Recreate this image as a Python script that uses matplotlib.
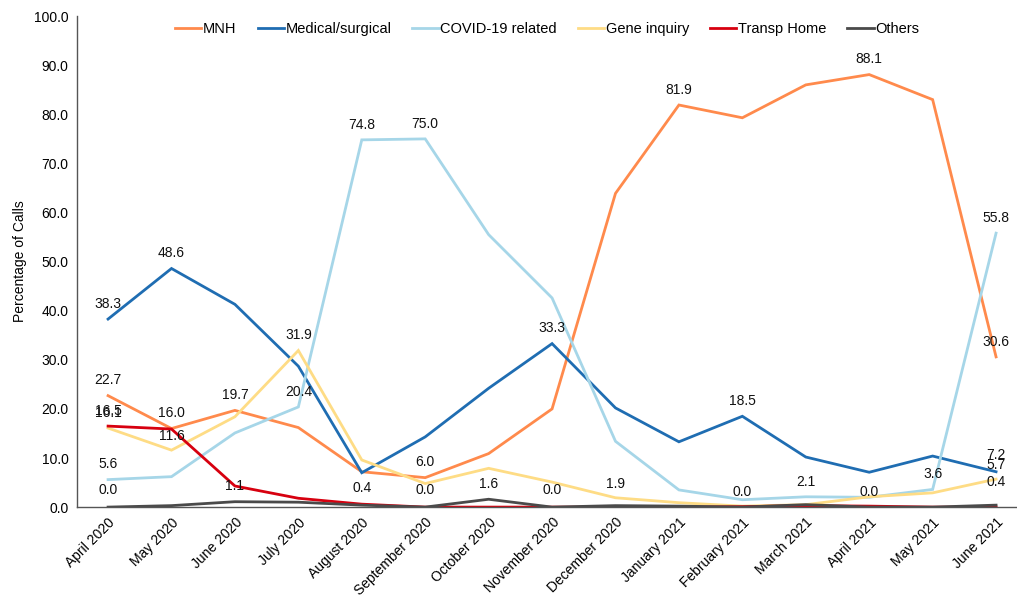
import numpy as np
import matplotlib
matplotlib.use("Agg")
import matplotlib.pyplot as plt

plt.rcParams["font.family"] = ["Liberation Sans", "DejaVu Sans"]

months = ["April 2020", "May 2020", "June 2020", "July 2020", "August 2020",
          "September 2020", "October 2020", "November 2020", "December 2020",
          "January 2021", "February 2021", "March 2021", "April 2021",
          "May 2021", "June 2021"]

mnh = [22.7, 16.0, 19.7, 16.2, 7.2, 6.0, 10.9, 20.0, 63.9, 81.9, 79.3, 86.0, 88.1, 83.0, 30.6]
medical = [38.3, 48.6, 41.3, 28.7, 7.0, 14.3, 24.2, 33.3, 20.2, 13.3, 18.5, 10.2, 7.1, 10.4, 7.2]
covid = [5.6, 6.2, 15.1, 20.4, 74.8, 75.0, 55.5, 42.6, 13.4, 3.5, 1.5, 2.1, 2.0, 3.6, 55.8]
gene = [16.1, 11.6, 18.4, 31.9, 9.6, 4.8, 7.9, 5.1, 1.9, 0.9, 0.2, 0.5, 2.1, 2.9, 5.7]
transp = [16.5, 15.9, 4.3, 1.8, 0.6, 0.0, 0.0, 0.0, 0.0, 0.0, 0.1, 0.3, 0.2, 0.0, 0.0]
others = [0.0, 0.3, 1.1, 1.0, 0.4, 0.0, 1.6, 0.0, 0.3, 0.2, 0.0, 0.5, 0.0, 0.0, 0.4]

series = {
    "MNH": (mnh, "#ff8a4c"),
    "Medical/surgical": (medical, "#1f6db2"),
    "COVID-19 related": (covid, "#a6d6e8"),
    "Gene inquiry": (gene, "#fedc85"),
    "Transp Home": (transp, "#d7000f"),
    "Others": (others, "#4a4a4a"),
}

# which points get a value label: (series, month index, offset in points)
labels = [
    ("Medical/surgical", 0, 11), ("MNH", 0, 11), ("Transp Home", 0, 11),
    ("Gene inquiry", 0, 11), ("COVID-19 related", 0, 11), ("Others", 0, 12),
    ("Medical/surgical", 1, 11), ("MNH", 1, 11), ("Gene inquiry", 1, 10),
    ("MNH", 2, 11), ("Others", 2, 11),
    ("Gene inquiry", 3, 11), ("COVID-19 related", 3, 11),
    ("COVID-19 related", 4, 11), ("Others", 4, 12),
    ("COVID-19 related", 5, 11), ("MNH", 5, 11), ("Others", 5, 12),
    ("Others", 6, 11),
    ("Medical/surgical", 7, 11), ("Others", 7, 12),
    ("Gene inquiry", 8, 10),
    ("MNH", 9, 11),
    ("Medical/surgical", 10, 11), ("Others", 10, 11),
    ("COVID-19 related", 11, 11),
    ("MNH", 12, 11), ("Others", 12, 11),
    ("COVID-19 related", 13, 11),
    ("COVID-19 related", 14, 11), ("MNH", 14, 11), ("Medical/surgical", 14, 12),
    ("Gene inquiry", 14, 10), ("Others", 14, 17),
]

fig = plt.figure(figsize=(10.17, 5.98), dpi=100)
ax = fig.add_axes([0.0757, 0.152, 0.9243, 0.821])

x = np.arange(len(months))
for name, (vals, col) in series.items():
    ax.plot(x, vals, color=col, lw=2.0, label=name, solid_joinstyle="miter")

for name, i, dy in labels:
    v = series[name][0][i]
    ax.annotate(f"{v:.1f}", (x[i], v), xytext=(0, dy), textcoords="offset points",
                ha="center", va="center", fontsize=10, color="#111111")

ax.set_xlim(-0.49, 14.33)
ax.set_ylim(0, 100)
ax.set_yticks(np.arange(0, 101, 10))
ax.set_yticklabels([f"{t:.1f}" for t in np.arange(0, 101, 10)], fontsize=10)
ax.set_xticks(x)
ax.set_xticklabels(months, rotation=45, ha="right", rotation_mode="anchor", fontsize=10)
ax.tick_params(axis="both", length=0, pad=6)
ax.set_ylabel("Percentage of Calls", fontsize=10, labelpad=5)

for s in ["top", "right"]:
    ax.spines[s].set_visible(False)
for s in ["left", "bottom"]:
    ax.spines[s].set_color("#555555")
    ax.spines[s].set_linewidth(1.0)

fig.legend(*ax.get_legend_handles_labels(), loc="center", bbox_to_anchor=(0.538, 0.951),
           ncol=6, frameon=False, fontsize=10.5, handlelength=1.8, handletextpad=0.1,
           columnspacing=1.45)

fig.savefig("out.png", dpi=100)
